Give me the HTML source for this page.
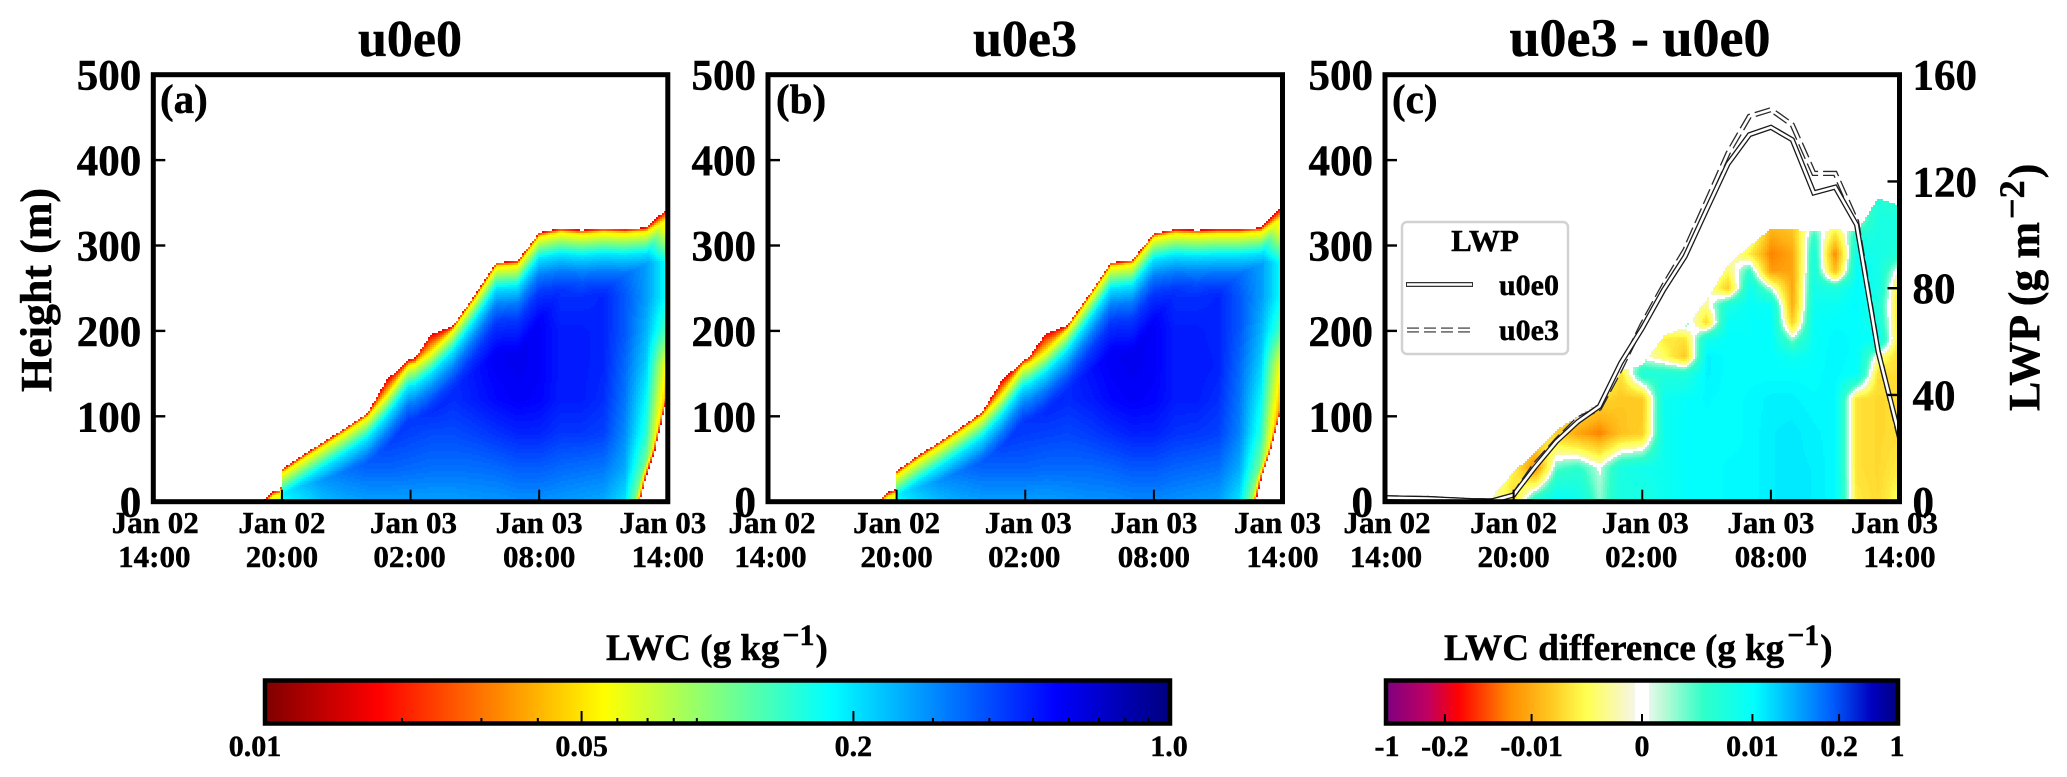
<!DOCTYPE html>
<html lang="en">
<head>
<meta charset="utf-8">
<title>LWC and LWP comparison</title>
<style>
html,body{margin:0;padding:0;background:#fff;width:2067px;height:777px;overflow:hidden}
svg{display:block;font-family:"Liberation Serif","DejaVu Serif",serif;font-weight:bold;fill:#000}
svg text{stroke:#000;stroke-width:.45px}
</style>
</head>
<body>
<svg id="fig" xmlns="http://www.w3.org/2000/svg" width="2067" height="777" viewBox="0 0 2067 777">
  <rect x="0" y="0" width="2067" height="777" fill="#fff"/>
  <g id="layer-fields"></g>
  <g id="layer-lines"></g>
  <g id="layer-axes"></g>

  <text x="410" y="56" font-size="52" text-anchor="middle">u0e0</text>
  <text x="1025" y="56" font-size="52" text-anchor="middle">u0e3</text>
  <text x="1640" y="56" font-size="54" text-anchor="middle">u0e3 - u0e0</text>

  <text x="160" y="113" font-size="41">(a)</text>
  <text x="776" y="113" font-size="41">(b)</text>
  <text x="1392" y="113" font-size="41">(c)</text>

  <text transform="translate(51,290) rotate(-90)" font-size="44" text-anchor="middle">Height (m)</text>
  <text transform="translate(2039,411) rotate(-90)" font-size="44">LWP (g m<tspan font-size="36" dy="-15" dx="3">−2</tspan><tspan dy="15" dx="2">)</tspan></text>

  <g>
    <rect x="1402" y="222" width="166" height="132" rx="5" fill="#fff" stroke="#d2d2d2" stroke-width="2.5"/>
    <text x="1485" y="251" font-size="31" text-anchor="middle">LWP</text>
    <line x1="1406" y1="284.5" x2="1473" y2="284.5" stroke="#333" stroke-width="5"/>
    <line x1="1407" y1="284.5" x2="1472" y2="284.5" stroke="#fff" stroke-width="2.4"/>
    <text x="1499" y="295" font-size="30">u0e0</text>
    <line x1="1407" y1="330" x2="1471" y2="330" stroke="#777" stroke-width="5.5" stroke-dasharray="12 5"/>
    <line x1="1406" y1="330" x2="1472" y2="330" stroke="#fff" stroke-width="2"/>
    <text x="1499" y="340" font-size="30">u0e3</text>
  </g>

  <g id="layer-cbars"></g>
  <text x="606" y="660" font-size="37" font-weight="bold" text-anchor="start">LWC (g kg<tspan font-size="30" dy="-15" dx="3">−1</tspan><tspan dy="15" dx="1">)</tspan></text>
  <text x="1444" y="660" font-size="37" text-anchor="start">LWC difference (g kg<tspan font-size="30" dy="-15" dx="3">−1</tspan><tspan dy="15" dx="1">)</tspan></text>
</svg>
<script>
/* ---------- axis tick data ---------- */
const timeTickHours = [0, 6, 12, 18, 24];
const timeTickDates = ['Jan 02', 'Jan 02', 'Jan 03', 'Jan 03', 'Jan 03'];
const timeTickClock = ['14:00', '20:00', '02:00', '08:00', '14:00'];
const heightTicks = [0, 100, 200, 300, 400, 500];
const lwpTicks = [0, 40, 80, 120, 160];
const lwcBarMajor = [0.01, 0.05, 0.2, 1.0];
const lwcBarMajorLabels = ['0.01', '0.05', '0.2', '1.0'];
const lwcBarMinor = [0.02, 0.03, 0.04, 0.06, 0.07, 0.08, 0.09, 0.3, 0.4, 0.5, 0.6, 0.7, 0.8, 0.9];
const diffBarTicks = [-1, -0.2, -0.01, 0, 0.01, 0.2, 1];
const diffBarLabels = ['-1', '-0.2', '-0.01', '0', '0.01', '0.2', '1'];

/* ---------- cloud field data ---------- */
const gridHours = [5,6,7,8,9,10,11,12,13,14,15,16,17,18,19,20,21,22,23,24];
const lwcLevels = [0,40,80,120,160,200,240,280,320];

/* LWC (g/kg), one row per hour in gridHours, one value per height in lwcLevels */
const lwcU0e0 = [
 [.06,.06,.06,.06,.06,.06,.06,.06,.06],
 [.17,.25,.27,.27,.27,.27,.27,.27,.27],
 [.20,.28,.32,.32,.32,.32,.32,.32,.32],
 [.24,.32,.36,.38,.38,.38,.38,.38,.38],
 [.26,.34,.40,.42,.42,.42,.42,.42,.42],
 [.27,.36,.42,.42,.42,.42,.42,.42,.42],
 [.27,.36,.44,.46,.46,.46,.46,.46,.46],
 [.27,.35,.42,.46,.48,.48,.48,.48,.48],
 [.27,.34,.40,.50,.52,.45,.45,.45,.45],
 [.27,.34,.40,.46,.46,.45,.45,.45,.45],
 [.28,.34,.42,.50,.52,.50,.50,.50,.50],
 [.28,.35,.45,.55,.58,.60,.60,.55,.50],
 [.29,.37,.48,.58,.60,.60,.58,.50,.40],
 [.29,.37,.48,.56,.58,.58,.55,.45,.30],
 [.28,.35,.44,.50,.50,.50,.46,.40,.25],
 [.27,.34,.44,.50,.50,.50,.46,.30,.20],
 [.26,.33,.42,.46,.48,.48,.48,.40,.25],
 [.20,.26,.30,.33,.35,.38,.38,.33,.22],
 [.05,.10,.15,.18,.22,.25,.28,.28,.12],
 [.01,.012,.02,.035,.05,.12,.17,.17,.05]
];
const lwcU0e3 = [
 [.06,.06,.06,.06,.06,.06,.06,.06,.06],
 [.17,.25,.27,.27,.27,.27,.27,.27,.27],
 [.21,.29,.33,.33,.33,.33,.33,.33,.33],
 [.24,.33,.37,.39,.39,.39,.39,.39,.39],
 [.26,.34,.41,.43,.43,.43,.43,.43,.43],
 [.27,.36,.43,.43,.43,.43,.43,.43,.43],
 [.27,.36,.45,.47,.47,.47,.47,.47,.47],
 [.27,.36,.43,.47,.49,.49,.49,.49,.49],
 [.27,.35,.42,.50,.52,.46,.46,.46,.46],
 [.28,.35,.41,.47,.47,.46,.46,.46,.46],
 [.29,.35,.43,.50,.53,.50,.50,.50,.50],
 [.29,.36,.46,.55,.58,.60,.60,.55,.50],
 [.30,.38,.49,.58,.60,.61,.58,.50,.40],
 [.30,.38,.49,.56,.58,.58,.55,.45,.30],
 [.29,.36,.45,.50,.50,.50,.46,.40,.25],
 [.28,.35,.44,.50,.51,.50,.46,.30,.20],
 [.27,.34,.42,.46,.49,.48,.48,.40,.25],
 [.20,.26,.31,.33,.35,.38,.38,.33,.22],
 [.05,.10,.15,.18,.22,.25,.28,.28,.12],
 [.01,.012,.02,.035,.05,.12,.17,.17,.05]
];
/* cloud-top outline: hour / metres (outer edge, and where the yellow band begins) */
const topHoursU0e0 = [5.1,5.6,5.95,6.0,7,8,9,10,10.9,11.9,12.2,12.95,13.95,15,16,17,18,19,20,21,22,23,24];
const topMetresU0e0 = [0,12,14,38,55,71,87,104,143,166,168,196,205,242,280,282,315,320,318,320,319,321,344];
const innerTopU0e0 = [-4,8,10,34,51,67,83,100,126,160,162,176,201,238,276,278,311,316,314,316,315,317,332];
const topHoursU0e3 = [5.1,5.6,5.95,6.0,7,8,9,10,10.9,11.9,12.2,12.95,13.95,15,16,17,18,19,20,21,22,23,24];
const topMetresU0e3 = [0,11,14,36,54,70,87,105,142,165,170,197,206,243,280,283,314,319,318,319,319,321,346];
const innerTopU0e3 = [-4,7,10,32,50,66,83,101,126,160,163,177,202,239,276,279,310,315,314,315,315,317,334];
/* cloud-base outline near the end of the period: metres / hour limit */
const baseMetresU0e0 = [0,30,60,125];
const baseHoursU0e0 = [22.7,23,23.4,24];
const baseMetresU0e3 = [0,30,60,115];
const baseHoursU0e3 = [22.75,23.05,23.45,24];
/* LWC along depth below the yellow band (m), and along hours from the base edge */
const edgeDepthMetres = [0,26,45,65,105];
const edgeDepthLwc = [0.05,0.2,0.316,0.437,0.6];
const edgeHoursFromBase = [0,0.1,0.3,0.7,1.5];
const edgeHoursLwc = [0.017,0.05,0.16,0.4,1.0];
const edgeOuterLwc = 0.017;

/* difference u0e3-u0e0, unit 1e-3 g/kg; one row per hour in gridHours, one value per height in diffLevels */
const diffLevels = [0,40,80,120,150,170,190,210,230,250,270,290,310,330,350,370];
const lwcDifference = [
 [-.15,0,0,0,0,0,0,0,0,0,0,0,0,0,0,0],
 [-2,-.8,0,0,0,0,0,0,0,0,0,0,0,0,0,0],
 [3,-30,-1,0,0,0,0,0,0,0,0,0,0,0,0,0],
 [12,.5,-3,-.5,0,0,0,0,0,0,0,0,0,0,0,0],
 [6,1,-12,-1,0,0,0,0,0,0,0,0,0,0,0,0],
 [.3,.1,-25,-2,0,0,0,0,0,0,0,0,0,0,0,0],
 [3,3,-5,-4,-1.5,0,0,0,0,0,0,0,0,0,0,0],
 [2.5,5,-3,-4,2,0,0,0,0,0,0,0,0,0,0,0],
 [6,6,6,6,2,-.5,-1,0,0,0,0,0,0,0,0,0],
 [9,10,10,9,2,-4,-1.5,.5,0,0,0,0,0,0,0,0],
 [10,10,10,11,13,13,5,-2,-.3,0,0,0,0,0,0,0],
 [11,11,10,10,10,10,10,8,3,-3,-.5,0,0,0,0,0],
 [11,11,11,11,10,10,9,9,8,6,1,-1,0,0,0,0],
 [14,14,14,13,10,10,10,10,8,.2,-15,-25,-12,-4,0,0],
 [15,15,15,13,10,6,.3,-3,-10,-12,-12,-12,-6,-3,0,0],
 [14,14,13,11,10,9,8,8,6,4,3,2.5,1,0,0,0],
 [11,11,11,11,12,12,12,10,7,2.5,-6,-25,-2,0,0,0],
 [-1,-1.5,-1.5,-1.5,8,10,10,10,11,10,9,6,2,0,0,0],
 [-2,-2.2,-2.2,-2.2,-1.5,-.3,8,3,2,4,4,4,3.5,3,2,0],
 [-.4,-1,-1.8,-1.8,-1.8,-2,-2,-2,-2,-1.8,-.3,1.5,2,2.5,1,0]
];
/* outer limit of the plotted difference field: hour / metres */
const diffTopHours = [5.05,6,7,8,9,10,11,12,13,14,15,16,17,18,19,20,21,22,23,24];
const diffTopMetres = [8,35,58,84,100,115,154,160,194,206,236,278,300,319,319,316,319,316,355,347];

/* liquid water path (g/m2), hourly from 14:00 */
const lwpHours = [0,1,2,3,4,5,6,7,8,9,10,11,12,13,14,15,16,17,18,19,20,21,22,23,24];
const lwpU0e0 = [1.5,1.3,1.2,.8,.4,.3,2.5,13,22.6,30,35.7,52,65,79.4,91.9,109.4,126.6,137.5,140.3,135.6,115.7,117.9,103.8,56.3,24.5];
const lwpU0e3 = [1.5,1.3,1.2,.8,.4,.3,2.5,14,23,31,35,50,66.5,81,94.4,112.5,130.6,144.4,146.9,141.2,123,123,105,56.5,24];

/* ---------- scales ---------- */
const SVGNS = 'http://www.w3.org/2000/svg';
const plotTop = 74.7, plotBottom = 501.7, plotW = 514.5;
const panelLefts = {a:153.3, b:768, c:1385};
const xScale = (left, h) => left + h / 24 * plotW;
const yScale = z => plotBottom - z / 500 * (plotBottom - plotTop);
const lwpScale = v => plotBottom - v / 160 * (plotBottom - plotTop);
const invX = (left, px) => (px - left) / plotW * 24;
const invY = py => (plotBottom - py) / (plotBottom - plotTop) * 500;

function mk(tag, attrs, parent, text) {
  const el = document.createElementNS(SVGNS, tag);
  for (const k in attrs) el.setAttribute(k, attrs[k]);
  if (text !== undefined) el.textContent = text;
  parent.appendChild(el);
  return el;
}
function bracket(xs, x) {
  if (x <= xs[0]) return [0, 0];
  const n = xs.length - 1;
  if (x >= xs[n]) return [n - 1, 1];
  let i = 0;
  while (xs[i + 1] < x) i++;
  return [i, (x - xs[i]) / (xs[i + 1] - xs[i])];
}
function interp(xs, ys, x) {
  const b = bracket(xs, x);
  return ys[b[0]] + (ys[b[0] + 1] - ys[b[0]]) * b[1];
}
function bilinear(rows, hs, zs, h, z) {
  const a = bracket(hs, h), b = bracket(zs, z);
  const p = rows[a[0]], q = rows[a[0] + 1];
  const v0 = p[b[0]] + (p[b[0] + 1] - p[b[0]]) * b[1];
  const v1 = q[b[0]] + (q[b[0] + 1] - q[b[0]]) * b[1];
  return v0 + (v1 - v0) * a[1];
}
const clamp01 = v => Math.max(0, Math.min(1, v));

/* colour maps */
function jetReversed(t) {
  const v = 1 - t;
  const r = clamp01(Math.min(4 * v - 1.5, -4 * v + 4.5));
  const g = clamp01(Math.min(4 * v - 0.5, -4 * v + 3.5));
  const b = clamp01(Math.min(4 * v + 0.5, -4 * v + 2.5));
  return 'rgb(' + Math.round(r * 255) + ',' + Math.round(g * 255) + ',' + Math.round(b * 255) + ')';
}
const lwcToBar = L => Math.log10(L / 0.01) / 2;

const divergingPos = [0,.08,.14,.24,.32,.39,.46,.486,.4861,.5139,.514,.54,.62,.72,.81,.87,.95,1];
const divergingR = [128,192,255,255,255,255,248,246,255,255,225,190,48,0,0,0,0,0];
const divergingG = [0,0,0,140,200,255,248,246,255,255,250,250,255,255,160,96,0,0];
const divergingB = [128,96,0,0,32,80,192,232,255,255,235,215,200,255,255,255,192,128];
function diverging(f) {
  return 'rgb(' + Math.round(interp(divergingPos, divergingR, f)) + ',' +
    Math.round(interp(divergingPos, divergingG, f)) + ',' +
    Math.round(interp(divergingPos, divergingB, f)) + ')';
}
/* symmetric scale: absolute value to position on half of the bar */
const symAbs = [0, 0.0002, 0.01, 0.2, 1];
const symPos = [0, .03, .433, .773, 1];
function symFrac(v) {
  const a = Math.abs(v);
  let p;
  if (a <= 0.0002) p = a / 0.0002 * .03;
  else p = interp(symAbs.slice(1).map(Math.log10), symPos.slice(1), Math.log10(a));
  return v < 0 ? -p : p;
}

/* ---------- filled fields ---------- */
const fieldLayer = document.getElementById('layer-fields');
const CELL = 2, NCOL = 128;

function drawField(left, name, valueAt, palette) {
  const g = mk('g', {'shape-rendering': 'crispEdges'}, fieldLayer);
  
  
  const buckets = {};
  const x0 = Math.ceil(left), y0 = Math.ceil(plotTop);
  const nx = Math.floor(plotW / CELL), ny = Math.floor((plotBottom - plotTop) / CELL);
  for (let j = 0; j < ny; j++) {
    const py = y0 + j * CELL, z = invY(py + CELL / 2);
    let cur = -1, start = 0;
    for (let i = 0; i <= nx; i++) {
      const px = x0 + i * CELL;
      const v = i < nx ? valueAt(invX(left, px + CELL / 2), z) : -1;
      const idx = v < 0 ? -1 : Math.round(v * (NCOL - 1));
      if (idx !== cur) {
        if (cur >= 0) (buckets[cur] = buckets[cur] || []).push('M' + (x0 + start * CELL) + ' ' + py + 'h' + ((i - start) * CELL) + 'v' + CELL + 'h-' + ((i - start) * CELL) + 'z');
        cur = idx; start = i;
      }
    }
  }
  Object.keys(buckets).forEach(k => {
    const band = mk('path', {d: buckets[k].join(''), fill: palette(k / (NCOL - 1))}, g);
    
    
  });
}

function lwcValue(grid, topH, topZ, innerZ, baseZ, baseH) {
  const logGrid = grid.map(r => r.map(lwcToBar));
  const depthBar = edgeDepthLwc.map(lwcToBar);
  const baseBar = edgeHoursLwc.map(lwcToBar);
  const outerBar = lwcToBar(edgeOuterLwc);
  return function (h, z) {
    if (h < topH[0]) return -1;
    const top = interp(topH, topZ, h);
    if (z > top) return -1;
    const inner = interp(topH, innerZ, h);
    let t;
    if (z > inner) {
      t = outerBar + (depthBar[0] - outerBar) * (top - z) / Math.max(top - inner, 0.01);
    } else {
      t = interp(edgeDepthMetres, depthBar, inner - z);
    }
    t = Math.min(bilinear(logGrid, gridHours, lwcLevels, h, z), t);
    if (z <= baseZ[baseZ.length - 1]) {
      const lim = interp(baseZ, baseH, z);
      if (h > lim) return -1;
      t = Math.min(t, interp(edgeHoursFromBase, baseBar, lim - h));
    }
    return clamp01(t);
  };
}
const diffFracGrid = lwcDifference.map(r => r.map(v => symFrac(v * 1e-3)));
/* sharpen the pale band next to zero so white contour lines stay thin */
const sharpenIn = [0, .035, .2, .34, .433, 1];
const sharpenOut = [0, .10, .27, .36, .433, 1];
function diffValue(h, z) {
  if (h < diffTopHours[0] || z > interp(diffTopHours, diffTopMetres, h)) return -1;
  const f = bilinear(diffFracGrid, gridHours, diffLevels, h, z);
  const a = Math.abs(f);
  if (a < 0.035) return -1;
  const s = interp(sharpenIn, sharpenOut, a);
  return clamp01(.5 + (f < 0 ? -s : s) / 2);
}
drawField(panelLefts.a, 'lwc-contour-u0e0', lwcValue(lwcU0e0, topHoursU0e0, topMetresU0e0, innerTopU0e0, baseMetresU0e0, baseHoursU0e0), jetReversed);
drawField(panelLefts.b, 'lwc-contour-u0e3', lwcValue(lwcU0e3, topHoursU0e3, topMetresU0e3, innerTopU0e3, baseMetresU0e3, baseHoursU0e3), jetReversed);
drawField(panelLefts.c, 'lwc-difference-contour', diffValue, diverging);

/* ---------- LWP lines ---------- */
const lineLayer = document.getElementById('layer-lines');
function lwpPath(values) {
  return lwpHours.map((h, i) => (i ? 'L' : 'M') + xScale(panelLefts.c, h).toFixed(1) + ' ' + lwpScale(values[i]).toFixed(1)).join('');
}
const e3Outline = mk('path', {d: lwpPath(lwpU0e3), fill: 'none', stroke: '#2a2a2a', 'stroke-width': 5.2, 'stroke-dasharray': '16 5'}, lineLayer);


const e3Core = mk('path', {d: lwpPath(lwpU0e3), fill: 'none', stroke: '#fff', 'stroke-width': 2.6}, lineLayer);


const e0Outline = mk('path', {d: lwpPath(lwpU0e0), fill: 'none', stroke: '#1a1a1a', 'stroke-width': 5.2}, lineLayer);


const e0Core = mk('path', {d: lwpPath(lwpU0e0), fill: 'none', stroke: '#fff', 'stroke-width': 2.6}, lineLayer);



/* ---------- axes ---------- */
const axesLayer = document.getElementById('layer-axes');
const dateLabelShift = {a:[2,0,3,0,-5], b:[4,0,3,0,-5], c:[2,0,3,0,-5]};
const clockLabelShift = {a:[1,0,-1,0,0], b:[2.5,0,-1,0,0], c:[1,0,-1,0,0]};

function drawPanel(key) {
  const left = panelLefts[key];
  const g = mk('g', {}, axesLayer);
  
  
  const frame = mk('rect', {x: left, y: plotTop, width: plotW, height: plotBottom - plotTop, fill: 'none', stroke: '#000', 'stroke-width': 5}, g);
  
  
  heightTicks.forEach(v => {
    const y = yScale(v);
    const tick = mk('line', {x1: left, x2: left + 12, y1: y, y2: y, stroke: '#000', 'stroke-width': 2.4}, g);
    
    
    const label = mk('text', {x: left - 12, y: y + 15, 'font-size': 43, 'text-anchor': 'end'}, g, String(v));
    
    
  });
  timeTickHours.forEach((h, i) => {
    const x = xScale(left, h);
    const tick = mk('line', {x1: x, x2: x, y1: plotBottom, y2: plotBottom - 12, stroke: '#000', 'stroke-width': 2}, g);
    
    
    const date = mk('text', {x: x + dateLabelShift[key][i], y: 533, 'font-size': 31, 'text-anchor': 'middle'}, g, timeTickDates[i]);
    
    
    const clock = mk('text', {x: x + clockLabelShift[key][i], y: 567, 'font-size': 31, 'text-anchor': 'middle'}, g, timeTickClock[i]);
    
    
  });
}
drawPanel('a');
drawPanel('b');
drawPanel('c');

const rightAxis = mk('g', {}, axesLayer);


lwpTicks.forEach(v => {
  const y = lwpScale(v);
  const right = panelLefts.c + plotW;
  const tick = mk('line', {x1: right - 12, x2: right, y1: y, y2: y, stroke: '#000', 'stroke-width': 2.4}, rightAxis);
  
  
  const label = mk('text', {x: right + 13, y: y + 15, 'font-size': 43}, rightAxis, String(v));
  
  
});

/* ---------- colorbars ---------- */
const barLayer = document.getElementById('layer-cbars');
const barTop = 681, barBottom = 723;
const lwcBarLeft = 266, lwcBarRight = 1169, diffBarLeft = 1387, diffBarRight = 1897;

function drawBar(name, x0, x1, palette) {
  const g = mk('g', {}, barLayer);
  
  
  const ramp = mk('g', {'shape-rendering': 'crispEdges'}, g);
  
  
  for (let x = x0; x < x1; x += 2) {
    const seg = mk('rect', {x: x, y: barTop, width: 2.5, height: barBottom - barTop, fill: palette((x + 1 - x0) / (x1 - x0))}, ramp);
    
    
  }
  const frame = mk('rect', {x: x0 - 1, y: barTop - 0.5, width: x1 - x0 + 2, height: barBottom - barTop + 1, fill: 'none', stroke: '#000', 'stroke-width': 4.5}, g);
  
  
  return g;
}
const lwcBar = drawBar('colorbar-lwc', lwcBarLeft, lwcBarRight, jetReversed);
const lwcBarX = L => lwcBarLeft + lwcToBar(L) * (lwcBarRight - lwcBarLeft);
const lwcLabelShift = [-11, 0, 0, 0];
lwcBarMajor.forEach((v, i) => {
  const x = lwcBarX(v);
  if (i > 0 && i < lwcBarMajor.length - 1) {
    const tick = mk('line', {x1: x, x2: x, y1: barBottom, y2: barBottom - 12, stroke: '#000', 'stroke-width': 2}, lwcBar);
    
    
  }
  const label = mk('text', {x: x + lwcLabelShift[i], y: 756, 'font-size': 30, 'text-anchor': 'middle'}, lwcBar, lwcBarMajorLabels[i]);
  
  
});
lwcBarMinor.forEach(v => {
  const x = lwcBarX(v);
  const tick = mk('line', {x1: x, x2: x, y1: barBottom, y2: barBottom - 5, stroke: '#000', 'stroke-width': 2}, lwcBar);
  
  
});

const diffBar = drawBar('colorbar-difference', diffBarLeft, diffBarRight, diverging);
const diffBarX = v => (diffBarLeft + diffBarRight) / 2 + symFrac(v) * (diffBarRight - diffBarLeft) / 2;
diffBarTicks.forEach((v, i) => {
  const x = diffBarX(v);
  if (Math.abs(v) < 1) {
    const tick = mk('line', {x1: x, x2: x, y1: barBottom, y2: barBottom - 9, stroke: '#000', 'stroke-width': 2}, diffBar);
    
    
  }
  const label = mk('text', {x: x, y: 756, 'font-size': 30, 'text-anchor': 'middle'}, diffBar, diffBarLabels[i]);
  
  
});
</script>
</body>
</html>
